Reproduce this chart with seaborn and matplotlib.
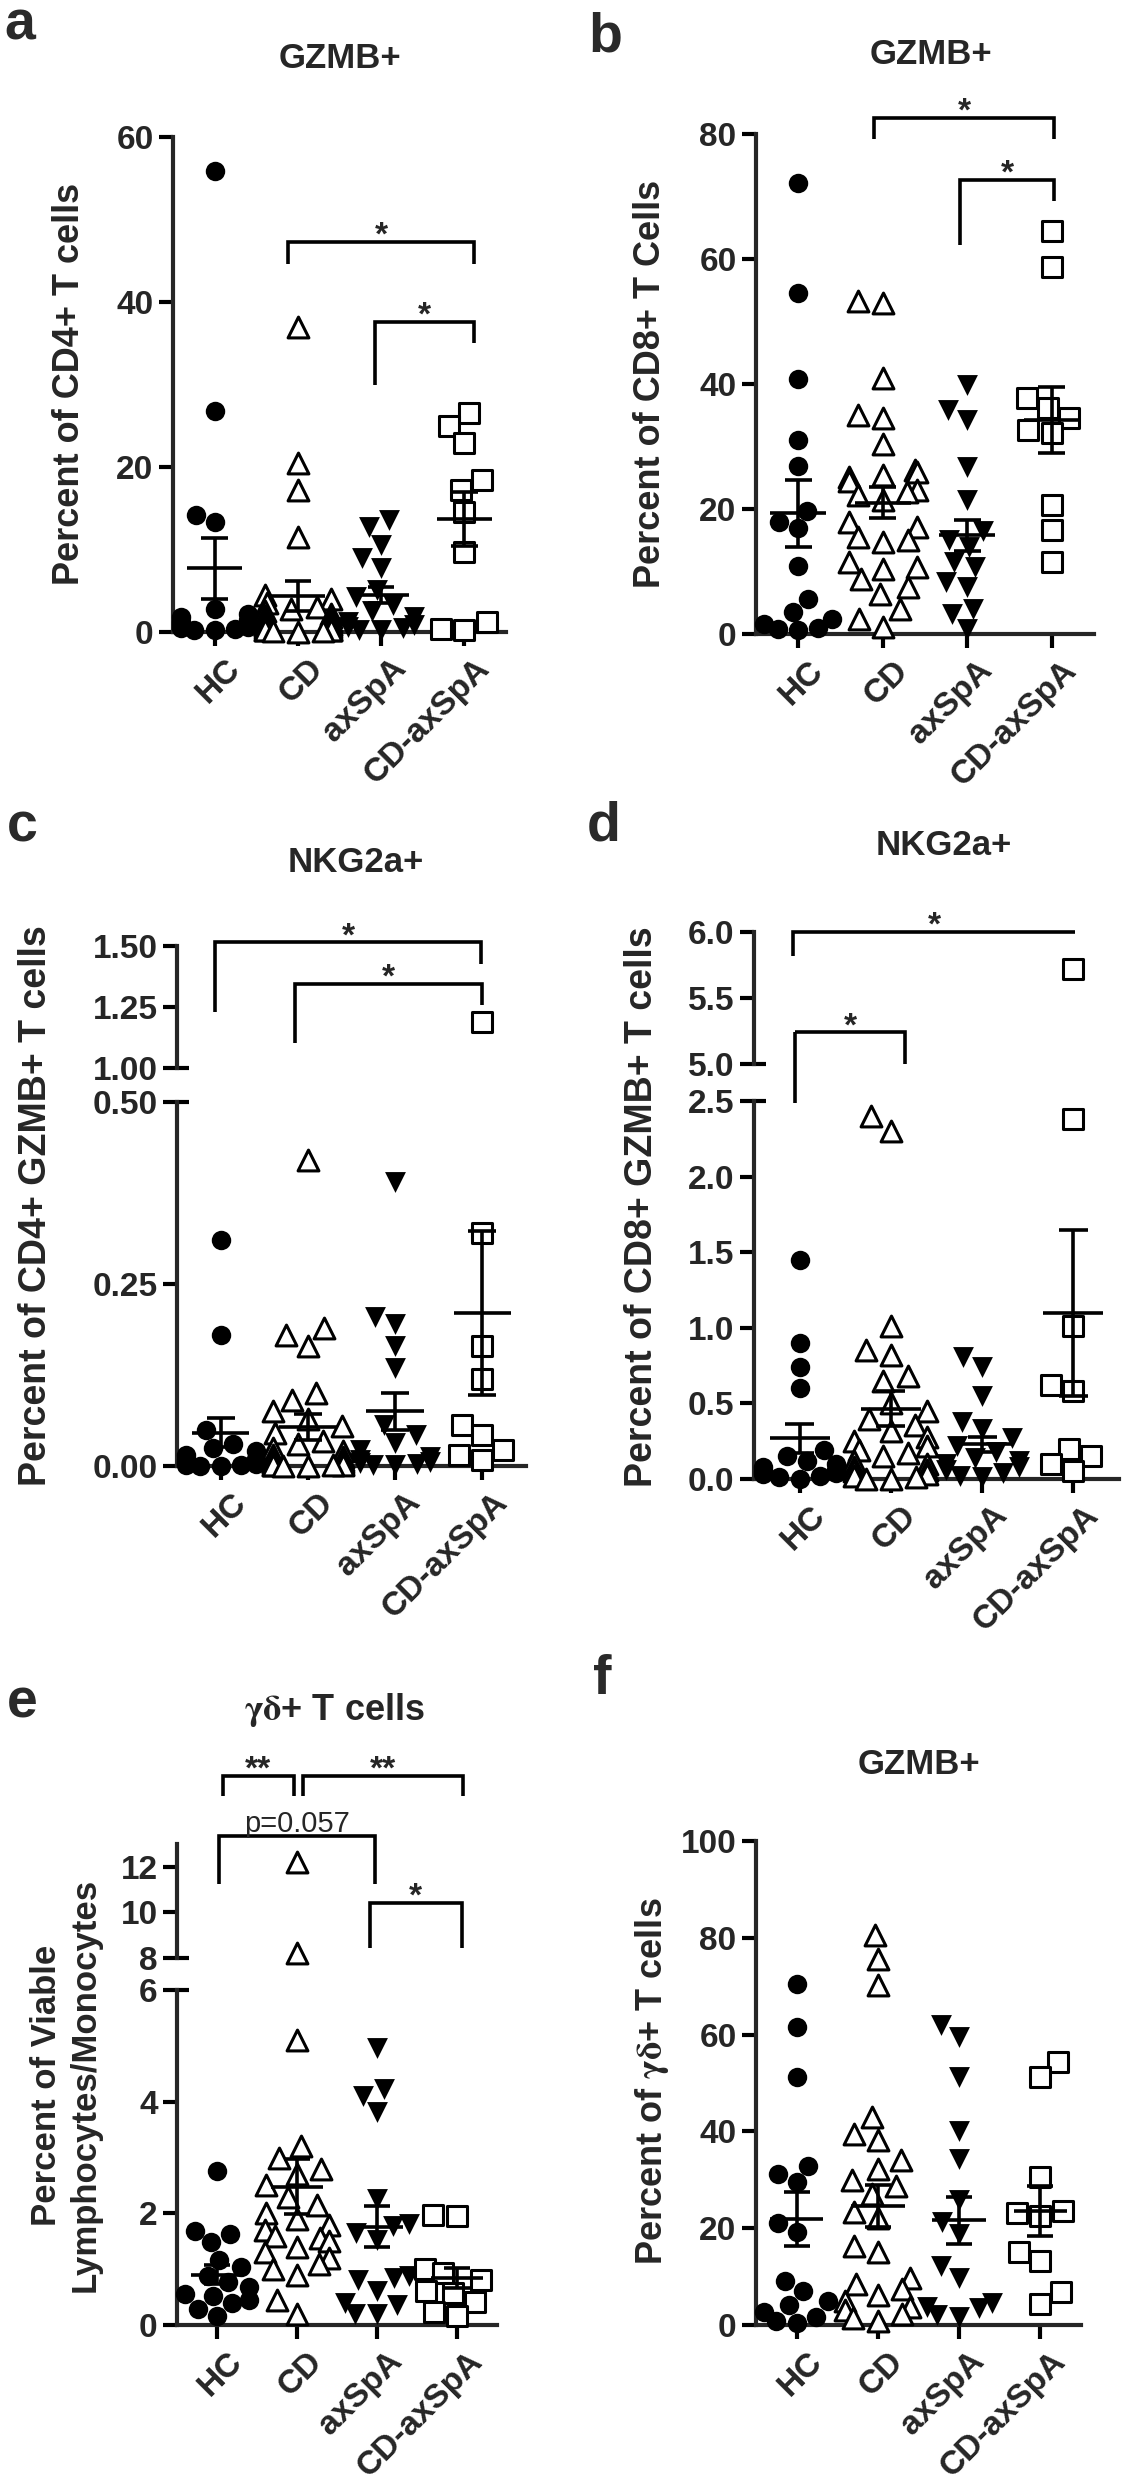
import numpy as np
import pandas as pd
import seaborn as sns
import matplotlib.pyplot as plt
import matplotlib.transforms as mtransforms
from matplotlib.lines import Line2D

groups = ["HC", "CD", "axSpA", "CD-axSpA"]

# a: GZMB+ (% of CD4+ T cells)
a_hc = [55.9, 26.8, 14.2, 13.3, 2.8, 2.2, 1.8, 1.5, 1.2, 1.0, 0.8, 0.6, 0.5, 0.4, 0.3, 0.2]
a_cd = [37.0, 20.5, 17.2, 11.5, 4.5, 4.0, 3.5, 3.0, 2.8, 2.5, 2.2, 2.0, 1.8, 1.5, 1.3,
        1.2, 1.0, 0.9, 0.8, 0.7, 0.6, 0.5, 0.4, 0.3, 0.3, 0.2, 0.2, 0.1, 0.1, 0.0]
a_ax = [13.6, 12.7, 10.6, 9.0, 7.8, 5.1, 4.2, 3.3, 2.5, 1.8, 1.2, 0.9, 0.6, 0.5, 0.3, 0.2]
a_cdax = [26.5, 25.0, 22.9, 18.4, 17.2, 14.5, 9.7, 1.2, 0.3, 0.4]
a_mean = [7.7, 4.4, 4.5, 13.7]
a_sem = [3.7, 1.8, 1.0, 3.3]

# b: GZMB+ (% of CD8+ T cells)
b_hc = [72.2, 54.5, 40.8, 31.1, 26.9, 19.7, 17.9, 16.9, 10.9, 5.6, 3.6, 2.4, 1.6, 1.0, 0.8, 0.6]
b_cd = [53.3, 53.0, 41.0, 35.0, 34.6, 30.4, 26.3, 25.9, 25.5, 25.1, 24.5, 23.1, 22.7, 22.3, 21.5,
        17.9, 17.1, 15.5, 15.1, 14.7, 11.5, 10.7, 10.4, 8.8, 7.6, 6.4, 4.0, 2.4, 1.2]
b_ax = [39.8, 35.8, 34.2, 26.8, 21.5, 16.5, 15.1, 13.9, 11.5, 10.7, 8.4, 7.6, 4.0, 3.2, 0.8]
b_cdax = [64.5, 58.7, 37.8, 36.2, 34.6, 32.6, 32.2, 20.7, 16.7, 11.5]
b_mean = [19.3, 21.0, 15.8, 34.3]
b_sem = [5.3, 2.5, 2.5, 5.3]

# c: NKG2a+ (% of CD4+ GZMB+ T cells)
c_hc = [0.31, 0.18, 0.05, 0.03, 0.025, 0.02, 0.015, 0.01, 0.008, 0.005, 0.004, 0.003, 0.002, 0.001, 0.0, 0.0]
c_cd = [0.42, 0.19, 0.18, 0.165, 0.10, 0.09, 0.075, 0.065, 0.055, 0.045, 0.035, 0.03, 0.025, 0.02,
        0.015, 0.012, 0.01, 0.008, 0.006, 0.005, 0.004, 0.003, 0.002, 0.002, 0.001, 0.001, 0.0, 0.0]
c_ax = [0.39, 0.205, 0.195, 0.165, 0.135, 0.057, 0.042, 0.032, 0.022, 0.012, 0.008, 0.006, 0.004, 0.003, 0.002, 0.001]
c_cdax = [1.19, 0.32, 0.165, 0.12, 0.057, 0.042, 0.022, 0.015, 0.008]
c_mean = [0.046, 0.054, 0.075, 0.21]
c_sem = [0.02, 0.018, 0.025, 0.113]

# d: NKG2a+ (% of CD8+ GZMB+ T cells)
d_hc = [1.45, 0.90, 0.74, 0.60, 0.19, 0.15, 0.12, 0.10, 0.08, 0.06, 0.05, 0.04, 0.03, 0.02, 0.01, 0.0]
d_cd = [2.40, 2.30, 1.01, 0.85, 0.82, 0.68, 0.65, 0.50, 0.45, 0.40, 0.36, 0.32, 0.28, 0.25, 0.22,
        0.19, 0.17, 0.15, 0.12, 0.10, 0.08, 0.06, 0.05, 0.03, 0.02, 0.01, 0.0, 0.0]
d_ax = [0.81, 0.74, 0.55, 0.38, 0.33, 0.27, 0.22, 0.18, 0.14, 0.12, 0.10, 0.08, 0.06, 0.04, 0.02, 0.01]
d_cdax = [5.72, 2.38, 1.01, 0.62, 0.58, 0.20, 0.15, 0.10, 0.05]
d_mean = [0.27, 0.465, 0.23, 1.10]
d_sem = [0.095, 0.115, 0.05, 0.55]

# e: gd+ T cells (% of viable lymphocytes/monocytes)
e_hc = [2.76, 1.68, 1.63, 1.48, 1.16, 1.03, 0.87, 0.77, 0.68, 0.55, 0.52, 0.45, 0.39, 0.29, 0.16]
e_cd = [12.2, 8.2, 5.1, 3.2, 3.0, 2.8, 2.7, 2.5, 2.3, 2.15, 2.0, 1.9, 1.8, 1.7, 1.6,
        1.55, 1.5, 1.4, 1.3, 1.2, 1.1, 1.0, 0.9, 0.45, 0.2]
e_ax = [4.97, 4.23, 4.10, 3.81, 2.26, 1.81, 1.77, 1.65, 1.52, 0.87, 0.85, 0.80, 0.61, 0.39, 0.35, 0.19, 0.19]
e_cdax = [1.97, 1.95, 1.00, 0.94, 0.81, 0.61, 0.58, 0.42, 0.23, 0.16]
e_mean = [0.90, 2.48, 1.76, 0.84]
e_sem = [0.17, 0.50, 0.37, 0.18]

# f: GZMB+ (% of gd+ T cells)
f_hc = [70.5, 61.6, 51.3, 32.9, 31.1, 29.6, 21.0, 19.2, 9.1, 7.1, 5.0, 4.2, 2.6, 1.7, 0.8, 0.5]
f_cd = [80.6, 75.7, 70.3, 43.0, 39.4, 38.2, 34.0, 32.3, 29.9, 28.7, 27.0, 23.4, 22.2, 16.3, 15.1,
        9.7, 8.5, 7.4, 6.2, 5.0, 3.8, 3.0, 2.3, 1.4, 0.8]
f_ax = [62.0, 59.6, 51.3, 40.0, 34.3, 25.8, 21.3, 18.7, 12.1, 9.7, 4.5, 3.8, 3.5, 2.0, 1.7]
f_cdax = [54.3, 51.3, 30.5, 23.6, 23.2, 22.5, 15.1, 13.3, 6.8, 4.4]
f_mean = [21.9, 24.6, 21.6, 23.6]
f_sem = [5.6, 4.3, 4.9, 5.2]

# significance brackets: (x left, x right, height, left leg end, right leg end, label)
a_brackets = [(0.88, 3.12, 47.3, 44.6, 44.6, "*"), (1.93, 3.12, 37.6, 30.0, 35.0, "*")]
b_brackets = [(0.90, 3.03, 82.6, 79.2, 79.2, "*"), (1.92, 3.03, 72.7, 62.3, 69.3, "*")]
c_brackets = [(-0.06, 2.98, 1.515, 1.229, 1.427, "*"), (0.85, 3.0, 1.344, 1.104, 1.26, "*")]
d_brackets = [(-0.07, 3.02, 6.0, 5.82, 6.0, "*"), (-0.05, 1.16, 5.24, 5.24, 5.0, "*")]
e_brackets = [(0.07, 0.96, 16.0, 15.1, 15.1, "**"), (1.08, 3.08, 16.0, 15.1, 15.1, "**"),
              (0.02, 1.98, 13.35, 11.24, 11.24, "p=0.057"), (1.91, 3.06, 10.4, 8.43, 8.43, "*")]

sns.set_style("ticks")
plt.rcParams["font.family"] = ["Liberation Sans", "DejaVu Sans"]
plt.rcParams["font.weight"] = "bold"
plt.rcParams["mathtext.fontset"] = "stix"

W, H = 1129, 2481
fig = plt.figure(figsize=(W / 100, H / 100), dpi=100)

marker_kw = {
    "HC": dict(marker="o", color="black", size=14, linewidth=0),
    "CD": dict(marker="^", color="white", size=15, edgecolor="black", linewidth=2.2),
    "axSpA": dict(marker="v", color="black", size=15, linewidth=0),
    "CD-axSpA": dict(marker="s", color="white", size=14, edgecolor="black", linewidth=2.2),
}
LW = 2.6


def add_ax(x0, x1, ytop, ybot):
    return fig.add_axes([x0 / W, 1 - ybot / H, (x1 - x0) / W, (ybot - ytop) / H])


def draw_points(ax, data, lo, hi):
    for g, vals in zip(groups, data):
        v = [x for x in vals if lo <= x <= hi]
        if not v:
            continue
        df = pd.DataFrame({"group": g, "value": v})
        sns.swarmplot(data=df, x="group", y="value", order=groups, ax=ax,
                      warn_thresh=1, **marker_kw[g])
    for coll in ax.collections:
        coll.set_clip_on(False)
        coll.set_zorder(3)


def draw_mean_sem(ax, means, sems):
    xs = np.arange(len(groups))
    m = np.array(means)
    s = np.array(sems)
    ax.hlines(m, xs - 0.33, xs + 0.33, color="black", lw=LW, zorder=5)
    ax.vlines(xs, m - s, m + s, color="black", lw=LW, zorder=5)
    ax.hlines(m + s, xs - 0.16, xs + 0.16, color="black", lw=LW, zorder=5)
    ax.hlines(m - s, xs - 0.16, xs + 0.16, color="black", lw=LW, zorder=5)


def style_ax(ax, ylim, ticks, ticklabels, bottom=True):
    ax.set_xlim(-0.5, 3.5)
    ax.set_ylim(*ylim)
    ax.set_yticks(ticks)
    ax.set_yticklabels(ticklabels)
    ax.set_xlabel("")
    ax.set_ylabel("")
    for side in ["top", "right"]:
        ax.spines[side].set_visible(False)
    for side in ["left", "bottom"]:
        ax.spines[side].set_linewidth(3)
    ax.tick_params(width=3, length=10, labelsize=24, pad=4, color="black")
    if bottom:
        ax.set_xticks(range(len(groups)))
        ax.set_xticklabels(groups, rotation=45, ha="right", va="top",
                           rotation_mode="anchor", fontsize=24, fontweight="bold")
        ax.tick_params(axis="x", pad=5)
        shift = mtransforms.ScaledTranslation(7 / 72, 0, fig.dpi_scale_trans)
        for lbl in ax.get_xticklabels():
            lbl.set_transform(lbl.get_transform() + shift)
    else:
        ax.spines["bottom"].set_visible(False)
        ax.set_xticks([])


def break_mark(ax, y):
    tr = mtransforms.blended_transform_factory(ax.transAxes, ax.transData)
    w = ax.get_position().width * W
    ax.plot([0, 12 / w], [y, y], color="black", lw=3, transform=tr,
            clip_on=False, solid_capstyle="butt")


def draw_brackets(ax, brackets, star_fs=24):
    for x0, x1, y, l0, l1, lab in brackets:
        ax.plot([x0, x0, x1, x1], [l0, y, y, l1], color="black", lw=LW,
                clip_on=False, solid_capstyle="butt", solid_joinstyle="miter")
        if lab.startswith("p"):
            ax.annotate(lab, xy=((x0 + x1) / 2, y), xytext=(0, 3), textcoords="offset points",
                        ha="center", va="baseline", fontsize=21, fontweight="normal",
                        annotation_clip=False)
        else:
            ax.annotate(lab, xy=((x0 + x1) / 2, y), xytext=(0, -2), textcoords="offset points",
                        ha="center", va="baseline", fontsize=star_fs, fontweight="bold",
                        annotation_clip=False)


def fig_text(x, y, s, **kw):
    fig.text(x / W, 1 - y / H, s, ha="center", va="center", **kw)


# ---- a ----
ax = add_ax(173, 506, 137, 632)
draw_points(ax, [a_hc, a_cd, a_ax, a_cdax], 0, 60)
draw_mean_sem(ax, a_mean, a_sem)
style_ax(ax, (0, 60), [0, 20, 40, 60], ["0", "20", "40", "60"])
draw_brackets(ax, a_brackets)
fig_text(340, 58, "GZMB+", fontsize=25, fontweight="bold")
fig_text(70, 384, "Percent of CD4+ T cells", rotation=90, fontsize=26)

# ---- b ----
ax = add_ax(756, 1094, 134, 634)
draw_points(ax, [b_hc, b_cd, b_ax, b_cdax], 0, 80)
draw_mean_sem(ax, b_mean, b_sem)
style_ax(ax, (0, 80), [0, 20, 40, 60, 80], ["0", "20", "40", "60", "80"])
draw_brackets(ax, b_brackets)
fig_text(931, 55, "GZMB+", fontsize=25, fontweight="bold")
fig_text(651, 384, "Percent of CD8+ T Cells", rotation=90, fontsize=26)

# ---- c ----
ax_lo = add_ax(177, 526, 1102, 1466)
ax_up = add_ax(177, 526, 946, 1068)
c_data = [c_hc, c_cd, c_ax, c_cdax]
draw_points(ax_lo, c_data, 0, 0.5)
draw_points(ax_up, c_data, 1.0, 1.5)
draw_mean_sem(ax_lo, c_mean, c_sem)
style_ax(ax_lo, (0, 0.5), [0, 0.25, 0.5], ["0.00", "0.25", "0.50"])
style_ax(ax_up, (1.0, 1.5), [1.0, 1.25, 1.5], ["1.00", "1.25", "1.50"], bottom=False)
break_mark(ax_lo, 0.5)
break_mark(ax_up, 1.0)
draw_brackets(ax_up, c_brackets)
fig_text(356, 863, "NKG2a+", fontsize=25, fontweight="bold")
fig_text(36, 1206, "Percent of CD4+ GZMB+ T cells", rotation=90, fontsize=27)

# ---- d ----
ax_lo = add_ax(754, 1119, 1101, 1479)
ax_up = add_ax(754, 1119, 932, 1064)
d_data = [d_hc, d_cd, d_ax, d_cdax]
draw_points(ax_lo, d_data, 0, 2.5)
draw_points(ax_up, d_data, 5.0, 6.0)
draw_mean_sem(ax_lo, d_mean, d_sem)
style_ax(ax_lo, (0, 2.5), [0, 0.5, 1.0, 1.5, 2.0, 2.5],
         ["0.0", "0.5", "1.0", "1.5", "2.0", "2.5"])
style_ax(ax_up, (5.0, 6.0), [5.0, 5.5, 6.0], ["5.0", "5.5", "6.0"], bottom=False)
break_mark(ax_lo, 2.5)
break_mark(ax_up, 5.0)
draw_brackets(ax_up, d_brackets)
# left leg of the HC-CD bracket runs across the axis break down to 2.5
x_leg = d_brackets[1][0]
p_top = ax_up.transData.transform((x_leg, d_brackets[1][2]))
p_bot = ax_lo.transData.transform((x_leg, 2.49))
pts = fig.transFigure.inverted().transform([p_top, p_bot])
fig.add_artist(Line2D(pts[:, 0], pts[:, 1], color="black", lw=LW,
                      transform=fig.transFigure, solid_capstyle="butt"))
fig_text(944, 845, "NKG2a+", fontsize=25, fontweight="bold")
fig_text(642, 1207, "Percent of CD8+ GZMB+ T cells", rotation=90, fontsize=27)

# ---- e ----
ax_lo = add_ax(177, 497, 1990, 2325)
ax_up = add_ax(177, 497, 1844, 1958)
e_data = [e_hc, e_cd, e_ax, e_cdax]
draw_points(ax_lo, e_data, 0, 6)
draw_points(ax_up, e_data, 8, 13)
draw_mean_sem(ax_lo, e_mean, e_sem)
style_ax(ax_lo, (0, 6), [0, 2, 4, 6], ["0", "2", "4", "6"])
style_ax(ax_up, (8, 13), [8, 10, 12], ["8", "10", "12"], bottom=False)
break_mark(ax_lo, 6)
break_mark(ax_up, 8)
draw_brackets(ax_up, e_brackets)
fig_text(334, 1710, r"$\mathrm{\gamma\delta}$+ T cells", fontsize=26, fontweight="bold")
fig_text(66, 2085, "Percent of Viable\nLymphocytes/Monocytes", rotation=90, fontsize=25)

# ---- f ----
ax = add_ax(756, 1081, 1841, 2325)
draw_points(ax, [f_hc, f_cd, f_ax, f_cdax], 0, 100)
draw_mean_sem(ax, f_mean, f_sem)
style_ax(ax, (0, 100), [0, 20, 40, 60, 80, 100], ["0", "20", "40", "60", "80", "100"])
fig_text(919, 1764, "GZMB+", fontsize=25, fontweight="bold")
fig_text(652, 2081, r"Percent of $\mathrm{\gamma\delta}$+ T cells", rotation=90, fontsize=26)

# panel letters
for lx, ly, letter in [(20, 25, "a"), (605, 37, "b"), (22, 828, "c"),
                       (604, 827, "d"), (22, 1703, "e"), (602, 1680, "f")]:
    fig_text(lx, ly, letter, fontsize=40, fontweight="bold", color="#2a2a2a")

fig.savefig("out.png", dpi=100)
